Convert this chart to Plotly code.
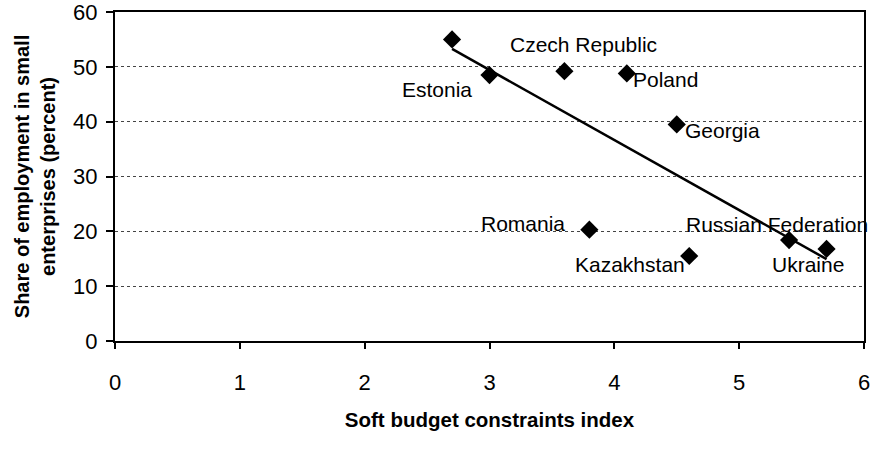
import numpy as np
import plotly.graph_objects as go

# Data
countries = ["", "Estonia", "Czech Republic", "Poland", "Georgia",
             "Romania", "Kazakhstan", "Russian Federation", "Ukraine"]
sbc_index = [2.7, 3.0, 3.6, 4.1, 4.5, 3.8, 4.6, 5.4, 5.7]
small_share = [55.0, 48.5, 49.2, 48.8, 39.5, 20.3, 15.5, 18.4, 16.8]

x_ticks = [0, 1, 2, 3, 4, 5, 6]
y_ticks = [0, 10, 20, 30, 40, 50, 60]

# label placement (anchor, pixel shifts)
label_pos = {
    "Estonia": ("right", -16, -14),
    "Czech Republic": ("center", 19, 27),
    "Poland": ("left", 4, -6),
    "Georgia": ("left", 6, -6),
    "Romania": ("right", -22, 6),
    "Kazakhstan": ("right", -2, -8),
    "Russian Federation": ("left", -105, 16),
    "Ukraine": ("center", -19, -16),
}

FONT = "Liberation Sans, Arial, sans-serif"

# linear trend from the data
slope, intercept = np.polyfit(sbc_index, small_share, 1)
tx = np.array([min(sbc_index), max(sbc_index)])
ty = slope * tx + intercept

fig = go.Figure()
fig.add_trace(go.Scatter(x=tx, y=ty, mode="lines",
                         line=dict(color="black", width=2.5),
                         hoverinfo="skip", showlegend=False))
fig.add_trace(go.Scatter(x=sbc_index, y=small_share, mode="markers",
                         marker=dict(symbol="diamond", size=14, color="black"),
                         text=countries, showlegend=False))

for name, xv, yv in zip(countries, sbc_index, small_share):
    if not name:
        continue
    anchor, xs, ys = label_pos[name]
    fig.add_annotation(x=xv, y=yv, text=name, showarrow=False,
                       xanchor=anchor, yanchor="middle", xshift=xs, yshift=ys,
                       font=dict(family=FONT, size=21, color="black"))

fig.update_layout(
    width=878, height=451,
    margin=dict(l=115, r=14, t=12, b=110),
    paper_bgcolor="white", plot_bgcolor="white",
    font=dict(family=FONT, color="black"),
)
fig.update_xaxes(
    range=[0, 6], tickvals=x_ticks, ticktext=[str(v) for v in x_ticks],
    automargin=False,
    showgrid=False, zeroline=False,
    showline=True, linecolor="black", linewidth=2, mirror=True,
    ticks="outside", ticklen=6, tickcolor="black", tickwidth=1.5,
    ticklabelstandoff=15, ticklabeloverflow="allow",
    tickfont=dict(family=FONT, size=22, color="black"),
    title=dict(text="<b>Soft budget constraints index</b>", standoff=18,
               font=dict(family=FONT, size=20.5, color="black")),
)
fig.update_yaxes(
    range=[0, 60], tickvals=y_ticks, ticktext=[str(v) for v in y_ticks],
    automargin=False,
    showgrid=True, gridcolor="#444444", griddash="dot", gridwidth=1.3,
    zeroline=False,
    showline=True, linecolor="black", linewidth=2, mirror=True,
    ticks="outside", ticklen=7, tickcolor="black", tickwidth=1.5,
    ticklabelstandoff=4, ticklabeloverflow="allow",
    tickfont=dict(family=FONT, size=22, color="black"),
    title=dict(text="<b>Share of employment in small<br>enterprises (percent)</b>",
               standoff=12,
               font=dict(family=FONT, size=20, color="black")),
)

fig.write_html("out.html")
